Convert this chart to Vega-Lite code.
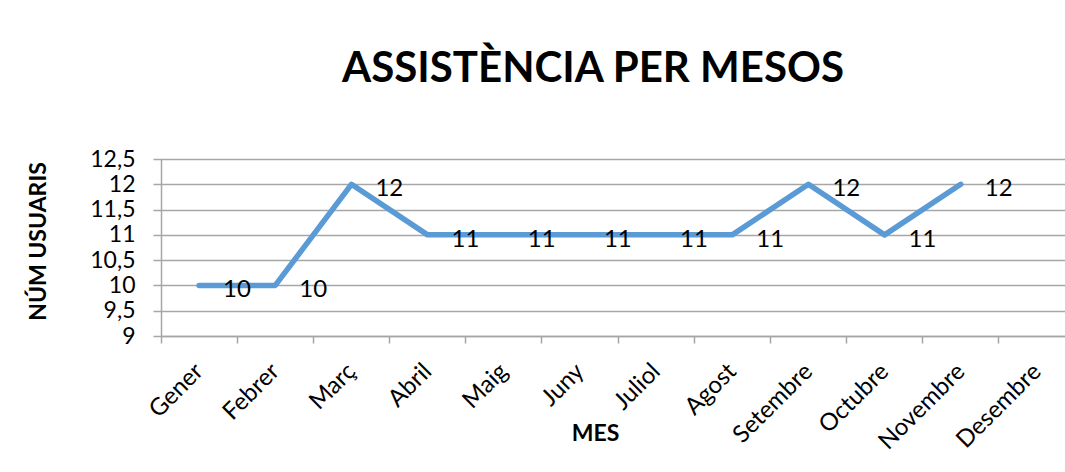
{
  "$schema": "https://vega.github.io/schema/vega-lite/v6.json",
  "width": 914,
  "height": 177,
  "autosize": {"type": "none"},
  "padding": {"left": 161, "top": 159, "right": 0, "bottom": 136},
  "background": "white",
  "title": {
    "text": "ASSISTÈNCIA PER MESOS",
    "font": "Lato",
    "fontSize": 42,
    "fontWeight": "bold",
    "color": "black",
    "anchor": "middle",
    "frame": "group",
    "baseline": "alphabetic",
    "offset": 24,
    "dx": -25
  },
  "data": {
    "values": [
      {"mes": "Gener", "usuaris": 10},
      {"mes": "Febrer", "usuaris": 10},
      {"mes": "Març", "usuaris": 12},
      {"mes": "Abril", "usuaris": 11},
      {"mes": "Maig", "usuaris": 11},
      {"mes": "Juny", "usuaris": 11},
      {"mes": "Juliol", "usuaris": 11},
      {"mes": "Agost", "usuaris": 11},
      {"mes": "Setembre", "usuaris": 12},
      {"mes": "Octubre", "usuaris": 11},
      {"mes": "Novembre", "usuaris": 12}
    ]
  },
  "encoding": {
    "x": {
      "field": "mes",
      "type": "nominal",
      "sort": null,
      "scale": {
        "type": "band",
        "domain": ["Gener", "Febrer", "Març", "Abril", "Maig", "Juny", "Juliol", "Agost", "Setembre", "Octubre", "Novembre", "Desembre"],
        "paddingInner": 0,
        "paddingOuter": 0
      },
      "axis": {
        "title": "MES",
        "titleFont": "Lato",
        "titleFontSize": 23,
        "titleFontWeight": "bold",
        "titleColor": "black",
        "titleX": 434,
        "titleY": 97,
        "titleBaseline": "middle",
        "titleAlign": "center",
        "bandPosition": 0,
        "labelOffset": -8,
        "labelAngle": -45,
        "labelAlign": "right",
        "labelBaseline": "top",
        "labelFont": "Lato",
        "labelFontSize": 24,
        "labelColor": "black",
        "labelPadding": 16,
        "tickSize": 7,
        "tickColor": "#a6a6a6",
        "domainColor": "#a6a6a6",
        "domainWidth": 1.5,
        "tickWidth": 1.5,
        "grid": false,
        "labelOverlap": false
      }
    },
    "y": {
      "field": "usuaris",
      "type": "quantitative",
      "scale": {"domain": [9, 12.5], "nice": false, "zero": false},
      "axis": {
        "title": "NÚM USUARIS",
        "titleFont": "Lato",
        "titleFontSize": 23,
        "titleFontWeight": "bold",
        "titleColor": "black",
        "titleX": -123,
        "titleY": 82,
        "titleAngle": -90,
        "titleBaseline": "middle",
        "titleAlign": "center",
        "values": [9, 9.5, 10, 10.5, 11, 11.5, 12, 12.5],
        "labelExpr": "replace(toString(datum.value), '.', ',')",
        "labelFont": "Lato",
        "labelFontSize": 23,
        "labelColor": "black",
        "labelPadding": 18,
        "tickSize": 8,
        "tickColor": "#a6a6a6",
        "domainColor": "#a6a6a6",
        "domainWidth": 1.5,
        "tickWidth": 1.5,
        "grid": true,
        "gridColor": "#a6a6a6",
        "gridWidth": 1.5
      }
    }
  },
  "layer": [
    {
      "mark": {"type": "line", "color": "#5B9BD5", "strokeWidth": 5.5, "strokeCap": "round", "strokeJoin": "round"}
    },
    {
      "mark": {"type": "text", "align": "left", "dx": 24, "dy": 5, "baseline": "middle", "font": "Lato", "fontSize": 24, "color": "black"},
      "encoding": {"text": {"field": "usuaris", "type": "quantitative"}}
    }
  ],
  "config": {"view": {"stroke": null}}
}
